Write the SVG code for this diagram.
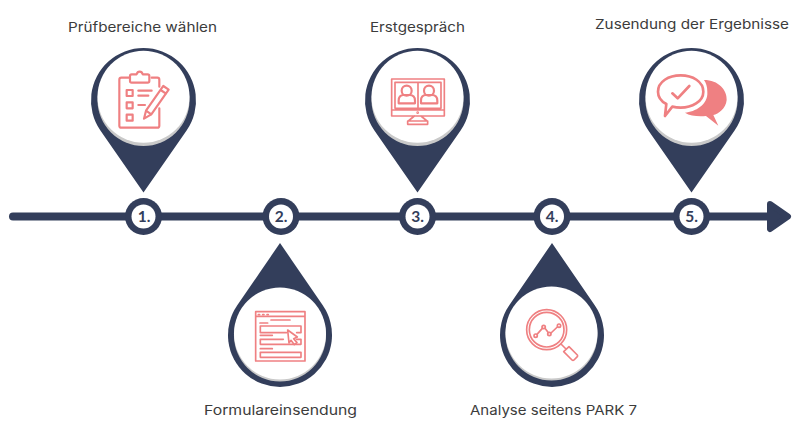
<svg xmlns="http://www.w3.org/2000/svg" width="800" height="434" viewBox="0 0 800 434">
<style>
.navy{fill:#333e5b}
.white{fill:#fff}
.shade{fill:#c9c9c9}
.ic{fill:none;stroke:#ef8082;stroke-width:6.5;stroke-linejoin:round;stroke-linecap:round}
.thin{stroke-width:5}
.thick{stroke-width:8}
.solid{fill:#ef8082;stroke:none}
.lbl{font-family:"Inter","Noto Sans",sans-serif;font-size:13.5px;fill:#3c3c3c}
.num{font-family:"Lato","Open Sans",sans-serif;font-size:15.5px;font-weight:700;fill:#333e5b;text-anchor:middle}
</style>
<rect width="800" height="434" fill="#fff"/>
<g id="connectors">
<line x1="13" y1="216.500" x2="770" y2="216.500" stroke="#333e5b" stroke-width="8" stroke-linecap="round"/>
<path class="navy" d="M770 204L788 216.500L770 229Z" stroke="#333e5b" stroke-width="6" stroke-linejoin="round"/>
</g>
<g id="step1">
<path class="navy" d="M100.400 130.500A52.500 52.500 0 1 1 186.600 130.500L143.500 192.500Z"/>
<circle class="shade" cx="143.500" cy="100" r="46"/><circle class="white" cx="143.500" cy="96.800" r="46"/>
<g transform="translate(80 40) scale(.3333)">
<path class="ic" d="M148 113H124Q118 113 118 119V257Q118 263 124 263H232Q238 263 238 257V205M215 113H232Q238 113 238 119V140"/>
<path class="ic" d="M155 103H170Q172 95 179 95Q186 95 188 103H203Q208 103 208 108V123Q208 128 203 128H155Q150 128 150 123V108Q150 103 155 103Z"/>
<path class="ic" d="M140 150H158V168H140ZM140 187H158V205H140ZM140 224H158V242H140Z"/>
<path class="ic" d="M175 152H215M175 167H205M175 195H195"/>
<path class="ic" d="M192 236L198 212L250 138L266 149L214 223ZM198 212L214 223M242 150L258 161"/>
</g>
<text class="lbl" x="68" y="32" textLength="149" lengthAdjust="spacingAndGlyphs">Prüfbereiche wählen</text>
</g>
<g id="step2">
<path class="navy" d="M237.100 305.600A52 52 0 1 0 322.900 305.600L280 243Z"/>
<circle class="shade" cx="280" cy="335.500" r="46"/><circle class="white" cx="280" cy="333.500" r="46"/>
<g transform="translate(215 235) scale(.3333)">
<path class="ic thin" d="M122 230H270V378H122ZM122 244H270M215 293H136V273H258V293H245M205 313H136V328H258V313H245M136 352H258V367H136Z"/>
<path class="ic thin" d="M135 264H158M168 255H225M136 301H172M136 341H172M130 239H134M143 239H147M156 239H160"/>
<path class="ic thin" d="M218 285L247 306L236 311L246 323L238 329L228 316L222 324Z"/>
</g>
<text class="lbl" x="204" y="415" textLength="153" lengthAdjust="spacingAndGlyphs">Formulareinsendung</text>
</g>
<g id="step3">
<path class="navy" d="M374.400 130.500A52.500 52.500 0 1 1 460.600 130.500L417.500 192.500Z"/>
<circle class="shade" cx="417.500" cy="100" r="46"/><circle class="white" cx="417.500" cy="96.800" r="46"/>
<g transform="translate(355 40) scale(.3333)">
<path class="ic thin" d="M110 117H268V228H110ZM120 127H258V205H120ZM189 127V205M110 210H268M178 228L160 243M198 228L216 243M158 243H218V253H158Z"/>
<circle class="ic thin" cx="188" cy="218" r="1.500"/>
<circle class="ic" cx="155" cy="152" r="15"/><circle class="ic" cx="222" cy="152" r="15"/>
<path class="ic" d="M131 190V182Q131 165 146 165H164Q180 165 180 182V190ZM198 190V182Q198 165 213 165H231Q247 165 247 182V190Z"/>
</g>
<text class="lbl" x="370" y="32" textLength="95" lengthAdjust="spacingAndGlyphs">Erstgespräch</text>
</g>
<g id="step4">
<path class="navy" d="M509.100 305.600A52 52 0 1 0 594.900 305.600L552 243Z"/>
<circle class="shade" cx="551.500" cy="334.500" r="46"/><circle class="white" cx="551.500" cy="332.500" r="46"/>
<g transform="translate(490 235) scale(.3333)">
<circle class="ic thin" cx="170" cy="284" r="60"/><circle class="ic thin" cx="170" cy="284" r="52"/>
<path class="ic thin" d="M213 327L228 342M221 350L237 335L262 360Q264 363 262 365L252 375Q249 378 246 375Z"/>
<path class="ic thin" d="M141 298L157 280M165 280L174 292M183 294L202 276"/>
<circle class="ic thin" cx="137" cy="302" r="5"/><circle class="ic thin" cx="161" cy="276" r="5"/><circle class="ic thin" cx="178" cy="297" r="5"/><circle class="ic thin" cx="207" cy="272" r="5"/>
</g>
<text class="lbl" x="470" y="415" textLength="167" lengthAdjust="spacingAndGlyphs">Analyse seitens PARK 7</text>
</g>
<g id="step5">
<path class="navy" d="M648.400 130.500A52.500 52.500 0 1 1 734.600 130.500L691.500 192.500Z"/>
<circle class="shade" cx="691.500" cy="100" r="46"/><circle class="white" cx="691.500" cy="96.800" r="46"/>
<g transform="translate(630 40) scale(.3333)">
<path class="solid" d="M222 120C265 120 292 150 290 180C288 205 265 222 250 225L265 257L228 228C205 230 180 228 165 218C195 215 235 195 232 155C232 140 228 128 222 120Z"/>
<path class="ic thick" d="M152 106C188 106 220 125 220 155C220 185 185 203 152 203C143 203 135 202 127 200L105 228L109 192C94 184 84 170 84 155C84 125 116 106 152 106Z"/>
<path class="ic thick" d="M127 160L143 175L178 138"/>
</g>
<text class="lbl" x="595" y="29" textLength="194" lengthAdjust="spacingAndGlyphs">Zusendung der Ergebnisse</text>
</g>
<g id="marker1"><circle class="navy" cx="143.500" cy="216.500" r="18.500"/><circle class="white" cx="143.500" cy="216.500" r="12"/><text class="num" x="144" y="222">1.</text></g>
<g id="marker2"><circle class="navy" cx="281" cy="216.500" r="18.500"/><circle class="white" cx="281" cy="216.500" r="12"/><text class="num" x="281" y="222">2.</text></g>
<g id="marker3"><circle class="navy" cx="417.500" cy="216.500" r="18.500"/><circle class="white" cx="417.500" cy="216.500" r="12"/><text class="num" x="417.500" y="222">3.</text></g>
<g id="marker4"><circle class="navy" cx="552" cy="216.500" r="18.500"/><circle class="white" cx="552" cy="216.500" r="12"/><text class="num" x="552" y="222">4.</text></g>
<g id="marker5"><circle class="navy" cx="691.500" cy="216.500" r="18.500"/><circle class="white" cx="691.500" cy="216.500" r="12"/><text class="num" x="691.500" y="222">5.</text></g>
</svg>
